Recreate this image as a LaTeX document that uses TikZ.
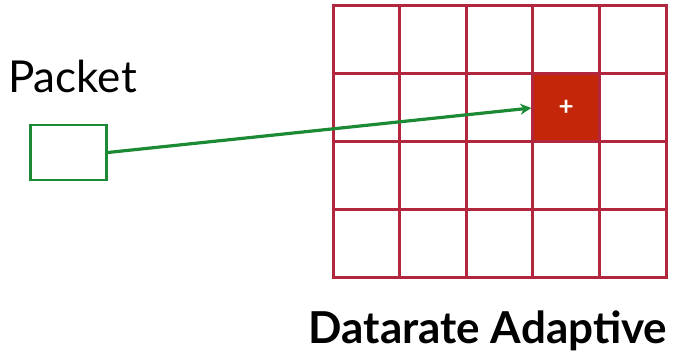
\documentclass[tikz,border=0pt]{standalone}
\usepackage{fontspec}
\setmainfont{Lato}
\usepackage{tikz}
\usetikzlibrary{arrows.meta}
\definecolor{gridred}{RGB}{178,38,62}
\definecolor{hitred}{RGB}{196,38,10}
\definecolor{packetgreen}{RGB}{28,138,52}

\begin{document}
\begin{tikzpicture}[
    x=1pt,y=-1pt,>=Stealth,
    cell/.style={draw=gridred,line width=3pt,minimum width=66.6pt,minimum height=68pt,inner sep=0pt},
    packetbox/.style={draw=packetgreen,line width=2.4pt,minimum width=76pt,minimum height=55pt,inner sep=0pt},
    route/.style={-{Stealth[length=11pt,width=11pt]},draw=packetgreen,line width=3.2pt}
]
\useasboundingbox (0,0) rectangle (680,355);
% Grid of datarate cells, 5 columns by 4 rows.
\foreach \i in {1,...,5}{
    \foreach \j in {1,...,4}{
        \node[cell] (cell-\i-\j) at ({333+66.6*(\i-0.5)},{6+68*(\j-0.5)}) {};
    }
}
% Chosen cell.
\node[cell,fill=hitred,text=white,font=\bfseries\fontsize{26}{26}\selectfont] (hit) at (cell-4-2) {+};
% Packet and its label.
\node[packetbox] (packet) at (68.5,152.5) {};
\node[anchor=base west,font=\fontsize{44}{44}\selectfont,inner sep=0pt] (packetlabel) at (8,93) {Packet};
\draw[route] (packet.east) -- (hit.west);
% Caption.
\node[anchor=base,font=\bfseries\fontsize{44}{44}\selectfont,inner sep=0pt] (caption) at (488,343) {Datarate Adaptive};
\end{tikzpicture}
\end{document}
